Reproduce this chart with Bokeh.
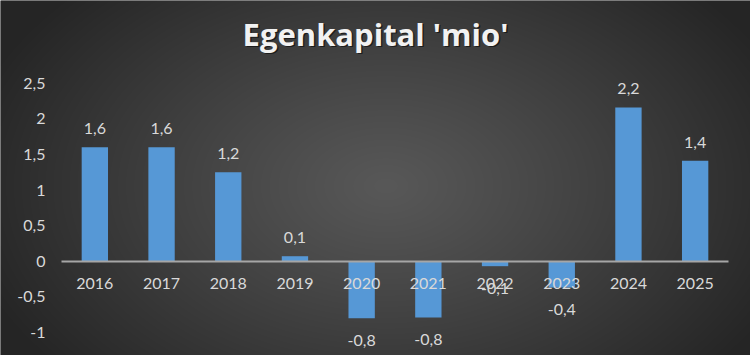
import numpy as np
from bokeh.plotting import figure
from bokeh.models import Range1d, LinearAxis, FixedTicker, Grid, Label, ColumnDataSource
from bokeh.embed import file_html
from bokeh.resources import INLINE
from bokeh.core.properties import value

# ---- data ----
title_text = "Egenkapital 'mio'"
years = ["2016", "2017", "2018", "2019", "2020", "2021", "2022", "2023", "2024", "2025"]
values = [1.60, 1.60, 1.25, 0.07, -0.80, -0.79, -0.07, -0.37, 2.16, 1.41]
value_labels = ["1,6", "1,6", "1,2", "0,1", "-0,8", "-0,8", "-0,1", "-0,4", "2,2", "1,4"]
y_ticks = [-1, -0.5, 0, 0.5, 1, 1.5, 2, 2.5]
y_tick_labels = ["-1", "-0,5", "0", "0,5", "1", "1,5", "2", "2,5"]

# ---- layout ----
W, H = 750, 355
n = len(years)
px_per_cat = 66.7
left_px = 61
zero_px = 260.7
px_per_unit = 71.2
x0 = -left_px / px_per_cat
x1 = x0 + W / px_per_cat
y1 = zero_px / px_per_unit
y0 = -(H - zero_px) / px_per_unit

FONT = "Lato"
TXT = "#d9d9d9"

p = figure(width=W, height=H, x_range=Range1d(x0, x1), y_range=Range1d(y0, y1),
           output_backend="svg", toolbar_location=None,
           x_axis_type=None, y_axis_type=None, min_border=0,
           outline_line_color=None, background_fill_color="#333333",
           border_fill_color="#333333")

# radial gradient background
xs = np.arange(W)[None, :]
ys_top = (H - 1 - np.arange(H))[:, None]  # screen y for each image row (row 0 at bottom)
r = np.sqrt(((xs - 385) / (W * 0.58)) ** 2 + ((ys_top - 185) / (H * 0.80)) ** 2)
t = np.clip(r, 0, 1) ** 1.1
center, edge = 88.0, 37.0
g = (center + (edge - center) * t).astype(np.uint8)
img = np.zeros((H, W), dtype=np.uint32)
view = img.view(dtype=np.uint8).reshape((H, W, 4))
view[:, :, 0] = g
view[:, :, 1] = g
view[:, :, 2] = g
view[:, :, 3] = 255
p.image_rgba(image=[img], x=x0, y=y0, dw=x1 - x0, dh=y1 - y0)

# grid
p.add_layout(Grid(dimension=1, ticker=FixedTicker(ticks=y_ticks), cross_bounds=(0, n),
                  grid_line_color="white", grid_line_alpha=0.12, grid_line_width=2))

centers = [i + 0.5 for i in range(n)]

# bars
src = ColumnDataSource(dict(x=centers, top=values, lab=value_labels))
p.vbar(x="x", top="top", bottom=0, width=0.395, source=src,
       fill_color="#5698d6", line_color=None)

# axes
xaxis = LinearAxis(fixed_location=0, ticker=FixedTicker(ticks=centers),
                   major_label_overrides={c: yv for c, yv in zip(centers, years)},
                   axis_line_color="#a6a6a6", axis_line_width=2,
                   major_tick_line_color=None, minor_tick_line_color=None,
                   major_label_text_font=FONT, major_label_text_font_size="16px",
                   major_label_text_color=TXT, major_label_standoff=11)
xaxis.bounds = (0, n)
p.add_layout(xaxis, "below")

yaxis = LinearAxis(fixed_location=0, ticker=FixedTicker(ticks=y_ticks),
                   major_label_overrides={t_: l for t_, l in zip(y_ticks, y_tick_labels)},
                   axis_line_color=None, major_tick_line_color=None, minor_tick_line_color=None,
                   major_label_text_font=FONT, major_label_text_font_size="16px",
                   major_label_text_color=TXT, major_label_standoff=10)
p.add_layout(yaxis, "left")

# value labels
pos = [i for i, v in enumerate(values) if v >= 0]
neg = [i for i, v in enumerate(values) if v < 0]
src_pos = ColumnDataSource(dict(x=[centers[i] for i in pos], y=[values[i] for i in pos],
                                lab=[value_labels[i] for i in pos]))
src_neg = ColumnDataSource(dict(x=[centers[i] for i in neg], y=[values[i] for i in neg],
                                lab=[value_labels[i] for i in neg]))
p.text(x="x", y="y", text="lab", source=src_pos, text_align="center",
       text_baseline="middle", y_offset=-18.5, text_font=value(FONT),
       text_font_size="16px", text_color=TXT)
p.text(x="x", y="y", text="lab", source=src_neg, text_align="center",
       text_baseline="middle", y_offset=22, text_font=value(FONT),
       text_font_size="16px", text_color=TXT)

# title with shadow
TY = H - 33
p.add_layout(Label(x=W / 2 + 1.5, y=TY - 1.5, x_units="screen", y_units="screen",
                   text=title_text, text_align="center", text_baseline="middle",
                   text_font="Open Sans", text_font_style="bold", text_font_size="31px",
                   text_color="black", text_alpha=0.55))
p.add_layout(Label(x=W / 2, y=TY, x_units="screen", y_units="screen",
                   text=title_text, text_align="center", text_baseline="middle",
                   text_font="Open Sans", text_font_style="bold", text_font_size="31px",
                   text_color="#f2f2f2"))

open("out.html", "w").write(file_html(p, INLINE))
